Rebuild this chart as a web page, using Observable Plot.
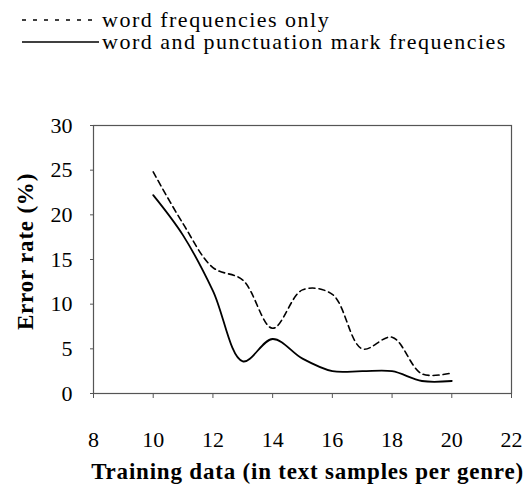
<!DOCTYPE html>
<html>
<head>
<meta charset="utf-8">
<script src="https://cdn.jsdelivr.net/npm/d3@7"></script>
<script src="https://cdn.jsdelivr.net/npm/@observablehq/plot@0.6"></script>
<style>
  html, body { margin: 0; padding: 0; background: #fff; }
  body { width: 526px; height: 489px; overflow: hidden; font-family: 'Liberation Serif'; }
  #legend { height: 68px; position: relative; font-size: 22px; line-height: 22px; color: #000; font-family: 'Liberation Serif'; }
  .row { position: absolute; left: 22px; height: 22px; display: flex; align-items: center; white-space: nowrap; letter-spacing: 1.5px; }
  .row svg { display: block; margin-right: 3px; }
  .row span { line-height: 22px; }
  #chart svg g[aria-label="text"] text { letter-spacing: 0.8px; }
</style>
</head>
<body>
<div id="legend"></div>
<div id="chart"></div>
<script>
const samples = [10, 11, 12, 13, 14, 15, 16, 17, 18, 19, 20];
const wordOnly = [24.8, 19.0, 14.1, 12.7, 7.3, 11.6, 11.1, 5.0, 6.3, 2.2, 2.3];
const wordPunct = [22.2, 17.7, 11.5, 3.6, 6.1, 3.9, 2.5, 2.5, 2.5, 1.4, 1.4];
const seriesNames = ["word frequencies only", "word and punctuation mark frequencies"];
const xTicks = [8, 10, 12, 14, 16, 18, 20, 22];
const yTicks = [0, 5, 10, 15, 20, 25, 30];
const xLabel = "Training data (in text samples per genre)";
const yLabel = "Error rate (%)";

const dashed = samples.map((x, i) => ({x, y: wordOnly[i]}));
const solid = samples.map((x, i) => ({x, y: wordPunct[i]}));

// legend
const legend = document.getElementById("legend");
const styles = [{dash: "4,7", w: 1.4}, {dash: null, w: 1.4}];
seriesNames.forEach((name, i) => {
  const row = document.createElement("div");
  row.className = "row";
  row.style.top = (i === 0 ? 9 : 31) + "px";
  const s = styles[i];
  row.innerHTML = `<svg width="77" height="22"><line x1="0" x2="77" y1="11" y2="11" stroke="#000" stroke-width="${s.w}" ${s.dash ? `stroke-dasharray="${s.dash}"` : ""}/></svg><span>${name}</span>`;
  legend.appendChild(row);
});

const chart = Plot.plot({
  width: 526,
  height: 421,
  marginTop: 57,
  marginBottom: 96,
  marginLeft: 93,
  marginRight: 15,
  style: {fontFamily: "'Liberation Serif'", fontSize: "22px", color: "#000", background: "#fff"},
  x: {domain: [8, 22]},
  y: {domain: [0, 30]},
  marks: [
    Plot.frame({stroke: "#555", strokeWidth: 1.2}),
    Plot.axisX({ticks: xTicks, tickSize: 5, tickPadding: 33, label: null, stroke: "#555"}),
    Plot.axisY({ticks: yTicks, tickSize: 3, tickPadding: 18, label: null, stroke: "#555"}),
    Plot.line(dashed, {x: "x", y: "y", curve: "catmull-rom", stroke: "#000", strokeWidth: 1.6, strokeDasharray: "6,4"}),
    Plot.line(solid, {x: "x", y: "y", curve: "catmull-rom", stroke: "#000", strokeWidth: 1.8}),
    Plot.text([yLabel], {frameAnchor: "left", textAnchor: "middle", dx: -68, dy: -8, rotate: -90, fontWeight: "bold", fontSize: 23, fill: "#000"}),
    Plot.text([xLabel], {frameAnchor: "bottom", textAnchor: "middle", dy: 85, dx: 5, fontWeight: "bold", fontSize: 23, fill: "#000"})
  ]
});
document.getElementById("chart").appendChild(chart);
</script>
</body>
</html>
